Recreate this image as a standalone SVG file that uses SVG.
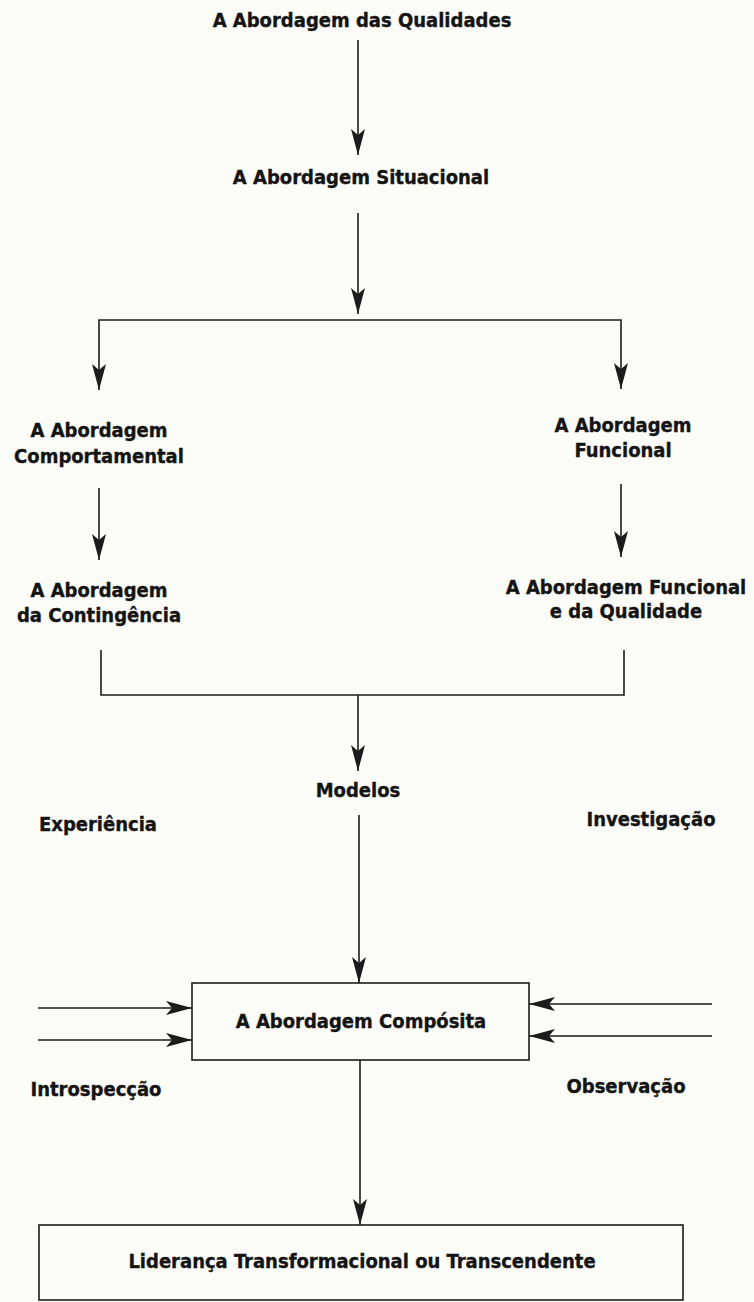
<svg xmlns="http://www.w3.org/2000/svg" width="754" height="1302" viewBox="0 0 754 1302">
  <style>
    .lbl { font-family: "DejaVu Sans Condensed", "DejaVu Sans", "Liberation Sans", sans-serif; font-weight: bold; font-size: 20px; fill: #141414; stroke: #141414; stroke-width: 0.35; text-anchor: middle; }
    .line { fill: none; stroke: #1c1c1c; stroke-width: 1.6; }
    .box { fill: none; stroke: #1c1c1c; stroke-width: 1.6; }
  </style>
  <defs>
    <marker id="arrow" markerUnits="userSpaceOnUse" viewBox="0 0 26 14" refX="26" refY="7" markerWidth="26" markerHeight="14" orient="auto">
      <path d="M0,0 L26,7 L0,14 L6,7 Z" fill="#1c1c1c"/>
    </marker>
  </defs>

  <rect width="754" height="1302" fill="#fbfbf7"/>

  <!-- connectors -->
  <g id="connectors">
    <path class="line" d="M358,40 V155" marker-end="url(#arrow)"/>
    <path class="line" d="M358,213 V314" marker-end="url(#arrow)"/>
    <path class="line" d="M358,320 H99 V390" marker-end="url(#arrow)"/>
    <path class="line" d="M358,320 H621 V389" marker-end="url(#arrow)"/>
    <path class="line" d="M99,488 V560" marker-end="url(#arrow)"/>
    <path class="line" d="M621,484 V557" marker-end="url(#arrow)"/>
    <path class="line" d="M101,650 V695 H624 V650"/>
    <path class="line" d="M358,695 V771" marker-end="url(#arrow)"/>
    <path class="line" d="M359,815 V983" marker-end="url(#arrow)"/>
    <path class="line" d="M38,1008 H192" marker-end="url(#arrow)"/>
    <path class="line" d="M38,1040 H192" marker-end="url(#arrow)"/>
    <path class="line" d="M712,1004 H529" marker-end="url(#arrow)"/>
    <path class="line" d="M712,1036 H529" marker-end="url(#arrow)"/>
    <path class="line" d="M360,1060 V1225" marker-end="url(#arrow)"/>
  </g>

  <g id="qualidades">
    <text class="lbl" x="362" y="27">A Abordagem das Qualidades</text>
  </g>
  <g id="situacional">
    <text class="lbl" x="361" y="184">A Abordagem Situacional</text>
  </g>
  <g id="comportamental">
    <text class="lbl" x="99" y="437">A Abordagem</text>
    <text class="lbl" x="99" y="463">Comportamental</text>
  </g>
  <g id="funcional">
    <text class="lbl" x="623" y="432">A Abordagem</text>
    <text class="lbl" x="623" y="457">Funcional</text>
  </g>
  <g id="contingencia">
    <text class="lbl" x="99" y="597">A Abordagem</text>
    <text class="lbl" x="99" y="622">da Contingência</text>
  </g>
  <g id="funcional-qualidade">
    <text class="lbl" x="626" y="594">A Abordagem Funcional</text>
    <text class="lbl" x="626" y="618">e da Qualidade</text>
  </g>
  <g id="modelos">
    <text class="lbl" x="358" y="797">Modelos</text>
  </g>
  <g id="experiencia">
    <text class="lbl" x="98" y="831">Experiência</text>
  </g>
  <g id="investigacao">
    <text class="lbl" x="651" y="826">Investigação</text>
  </g>
  <g id="composita">
    <rect class="box" x="192" y="983" width="337" height="77"/>
    <text class="lbl" x="361" y="1028">A Abordagem Compósita</text>
  </g>
  <g id="introspeccao">
    <text class="lbl" x="96" y="1096">Introspecção</text>
  </g>
  <g id="observacao">
    <text class="lbl" x="626" y="1093">Observação</text>
  </g>
  <g id="lideranca">
    <rect class="box" x="39" y="1225" width="644" height="75"/>
    <text class="lbl" x="362" y="1268">Liderança Transformacional ou Transcendente</text>
  </g>
</svg>
